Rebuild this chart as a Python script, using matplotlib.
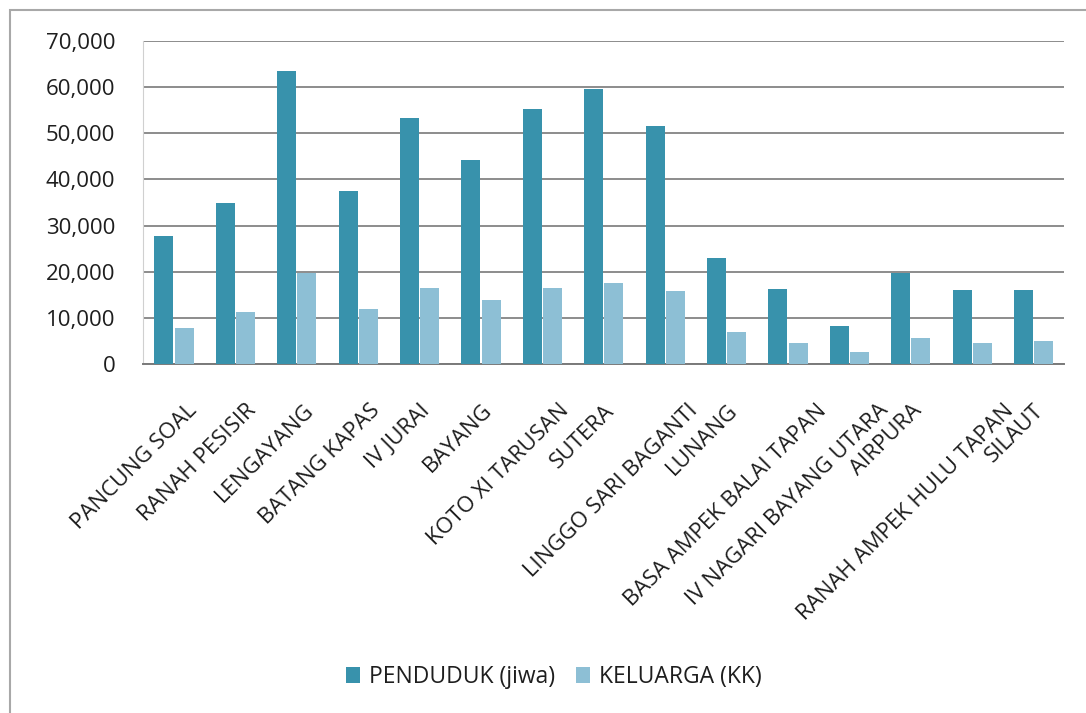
from matplotlib import pyplot as plt
from matplotlib import transforms
from matplotlib.patches import Rectangle
from matplotlib.ticker import FuncFormatter, MultipleLocator
import numpy as np

# kecamatan names and values
kecamatan = ['PANCUNG SOAL', 'RANAH PESISIR', 'LENGAYANG', 'BATANG KAPAS',
             'IV JURAI', 'BAYANG', 'KOTO XI TARUSAN', 'SUTERA',
             'LINGGO SARI BAGANTI', 'LUNANG', 'BASA AMPEK BALAI TAPAN',
             'IV NAGARI BAYANG UTARA', 'AIRPURA', 'RANAH AMPEK HULU TAPAN',
             'SILAUT']
penduduk = [27700, 35000, 63500, 37600, 53300, 44300, 55300, 59500,
            51600, 23000, 16300, 8300, 19800, 16000, 16000]
keluarga = [7800, 11300, 19800, 11900, 16500, 13800, 16500, 17500,
            15900, 6900, 4500, 2500, 5600, 4500, 4900]

dark = '#3892ac'
light = '#8dbfd5'
gridc = '#8c8c8c'
txtc = '#1e1e1e'

plt.rcParams['font.family'] = ['Open Sans', 'DejaVu Sans']

W, H = 1086., 713.
fig = plt.figure(figsize=(W/100, H/100), dpi=100)
fig.patch.set_facecolor('white')

# outer chart border (only top and left visible in the reference)
fig.patches.append(Rectangle((10/W, -0.1), 1.2, 1 - 10/H + 0.1,
                             transform=fig.transFigure, fill=False,
                             edgecolor='#a8a8a8', lw=1.5))

left, right, top, bottom = 143, 1064, 41, 364
ax = fig.add_axes([left/W, 1 - bottom/H, (right - left)/W, (bottom - top)/H])

x = np.arange(len(kecamatan))
w = 0.31
ax.bar(x - 0.16, penduduk, width=w, color=dark, label='PENDUDUK (jiwa)', zorder=3)
ax.bar(x + 0.17, keluarga, width=w, color=light, label='KELUARGA (KK)', zorder=3)

ax.set_xlim(-0.5, len(kecamatan) - 0.5)
ax.set_ylim(0, 70000)
ax.yaxis.set_major_locator(MultipleLocator(10000))
ax.yaxis.set_major_formatter(FuncFormatter(lambda v, p: '{:,.0f}'.format(v)))
ax.grid(axis='y', color=gridc, lw=1.4, zorder=0)

for s in ['top', 'right']:
    ax.spines[s].set_visible(False)
ax.spines['left'].set_color('#d0d0d0')
ax.spines['bottom'].set_color('#7a7a7a')
ax.spines['bottom'].set_linewidth(1.4)

ax.tick_params(axis='y', length=0, pad=20, labelsize=16, labelcolor=txtc)
ax.tick_params(axis='x', length=0, pad=0)

ax.set_xticks(x)
ax.set_xticklabels(kecamatan, rotation=45, ha='right', va='top',
                   rotation_mode='anchor', fontsize=16, color=txtc)

# excel shifts the longer rotated labels further right
fig.canvas.draw()
renderer = fig.canvas.get_renderer()
for lbl in ax.get_xticklabels():
    tw, th, td = renderer.get_text_width_height_descent(
        lbl.get_text(), lbl.get_fontproperties(), ismath=False)
    dx = max(0.15*(tw - 85), 0)
    offset = transforms.ScaledTranslation(dx/100., -36/100., fig.dpi_scale_trans)
    lbl.set_transform(lbl.get_transform() + offset)

fig.legend(loc='center', bbox_to_anchor=(0.51, 1 - 677/H), ncol=2,
           frameon=False, fontsize=16.5, handlelength=0.6, handleheight=0.7,
           handletextpad=0.4, columnspacing=0.9, labelcolor=txtc)

plt.savefig('out.png', dpi=100)
